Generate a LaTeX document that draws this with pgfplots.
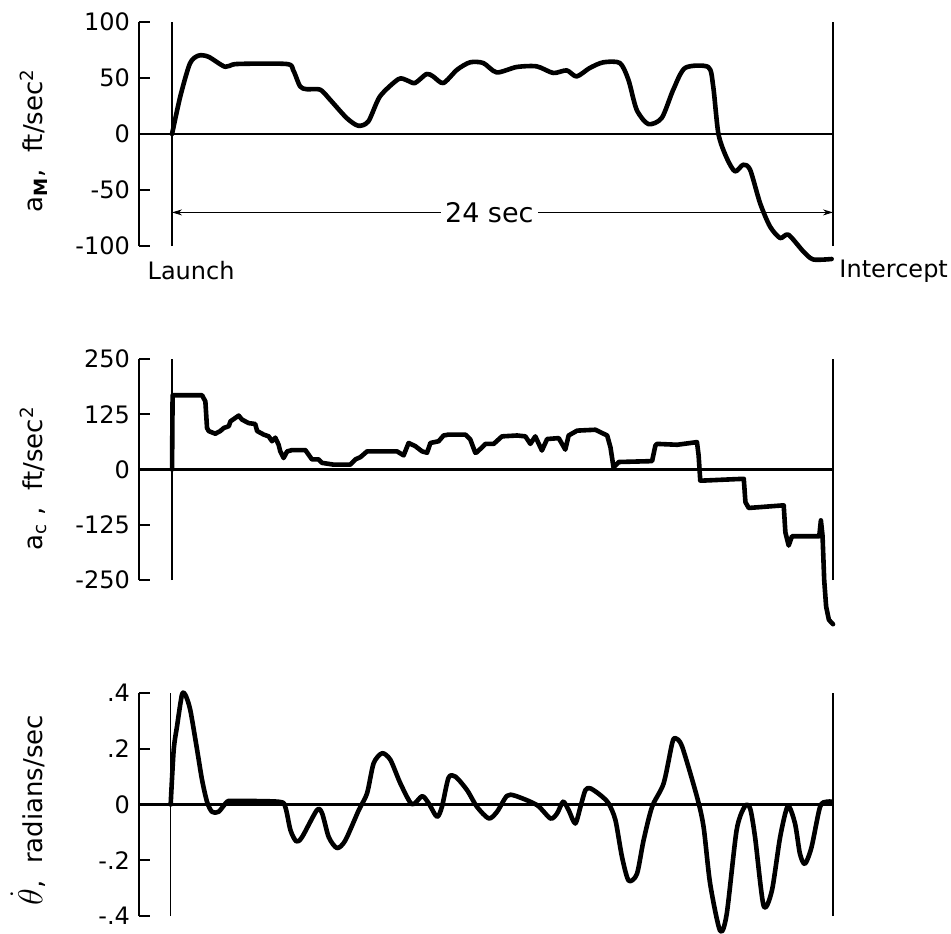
\documentclass[border=0pt]{standalone}
\usepackage{fontspec}
\setmainfont{DejaVu Sans}
\usepackage{pgfplots}
\pgfplotsset{compat=1.18}
\usetikzlibrary{arrows.meta}

% one picture pixel = 0.5pt, origin at the top left corner
\pgfplotsset{
  panel/.style={
    scale only axis, width=347pt,
    xmin=-1.2, xmax=24, clip=false,
    axis x line=none, axis y line*=left,
    xtick=\empty,
    axis line style={-, line width=1.2pt},
    tick align=inside, major tick length=5.5pt,
    ytick style={line width=1.2pt, black},
    yticklabel style={font=\fontsize{12}{13}\selectfont, xshift=-1pt},
    ylabel style={font=\fontsize{13}{14}\selectfont, anchor=center},
    anchor=south west,
  },
  curve/.style={black, line width=2.3pt, line join=round, line cap=round, no markers},
  guide/.style={black, line width=1pt, no markers},
  zero/.style={black, line width=1.4pt, no markers},
}

\begin{document}
\begin{tikzpicture}
\useasboundingbox (0pt,0pt) rectangle (475.5pt,-466.5pt);

% ---- missile acceleration
\begin{axis}[panel, at={(69.5pt,-123pt)}, height=112pt,
  ymin=-100, ymax=100,
  ytick={-100,-50,0,50,100},
  yticklabels={-100,-50,0,50,100},
  ylabel={a\textsubscript{\textbf{M}},\ \ ft/sec\textsuperscript{2}},
  ylabel style={at={(axis description cs:-0.152,0.47)}},
]
\addplot[zero] coordinates {(-1.2,0) (24,0)};
\addplot[guide] coordinates {(0,-100) (0,100)};
\addplot[guide] coordinates {(24,-100) (24,100)};
\addplot[curve, smooth, tension=0.45] coordinates {
 (0,0) (0.3,33.6) (0.65,63) (0.96,70) (1.32,69) (1.93,60) (2.35,62.5) (4.16,62.5)
 (4.4,57) (4.65,42.5) (4.89,40) (5.38,39.6) (5.74,30.6) (6.34,14.3) (6.76,7.4)
 (7.13,11.3) (7.55,33.6) (8.22,49) (8.52,48) (8.82,45.5) (9.24,53.6) (9.48,51.4)
 (9.85,45.5) (10.35,57.4) (10.82,64) (11.3,63.4) (11.79,55) (12.51,59.8) (13.24,60.4)
 (13.84,54.5) (14.33,56.8) (14.69,51.4) (15.17,59) (15.66,64) (16.26,63.4) (16.57,48.5)
 (16.87,21.7) (17.29,8.9) (17.78,14.3) (18.2,39.6) (18.63,59) (19.47,59.8) (19.65,42.5)
 (19.84,0) (20.14,-21.4) (20.44,-33.4) (20.74,-27.4) (20.99,-31.9) (21.35,-61.6)
 (21.71,-82.5) (22.08,-92.9) (22.38,-89.9) (22.92,-104.8) (23.28,-112) (23.95,-111.6)
};
\draw[{Stealth[length=5pt,width=3pt]}-{Stealth[length=5pt,width=3pt]}, line width=0.5pt]
  (axis cs:0,-70) -- (axis cs:24,-70)
  node[pos=0.48, fill=white, inner sep=2pt, font=\fontsize{13.5}{14}\selectfont] {24 sec};
\node[anchor=base west, inner sep=0pt, font=\fontsize{12}{13}\selectfont]
  at (axis cs:-0.9,-129.6) {Launch};
\node[anchor=base west, inner sep=0pt, font=\fontsize{12}{13}\selectfont]
  at (axis cs:24.22,-128.3) {Intercept};
\end{axis}

% ---- commanded acceleration
\begin{axis}[panel, at={(69.5pt,-290pt)}, height=110.5pt,
  ymin=-250, ymax=250,
  ytick={-250,-125,0,125,250},
  yticklabels={-250,-125,0,125,250},
  ylabel={a\textsubscript{c} ,\ \ ft/sec\textsuperscript{2}},
  ylabel style={at={(axis description cs:-0.152,0.46)}},
]
\addplot[zero] coordinates {(-1.2,0) (24,0)};
\addplot[guide] coordinates {(0,-250) (0,250)};
\addplot[guide] coordinates {(24,-250) (24,250)};
\addplot[curve, sharp plot] coordinates {
 (0,0) (0.02,168) (1.09,168) (1.21,154) (1.27,94) (1.33,87) (1.57,81) (1.75,87)
 (1.88,94) (2.06,98) (2.12,109) (2.42,122) (2.54,113) (2.78,105) (3.02,103) (3.09,87)
 (3.33,79) (3.51,75) (3.63,64) (3.75,72) (3.87,56) (3.93,41) (4.05,26) (4.18,41)
 (4.36,44) (4.84,44) (5.08,23) (5.32,23) (5.45,15) (5.87,11) (6.47,11) (6.66,23)
 (6.84,28) (7.08,41) (8.17,41) (8.41,32) (8.59,60) (8.83,53) (9.08,41) (9.26,38)
 (9.38,60) (9.68,64) (9.86,77) (10.04,79) (10.65,79) (10.83,68) (11.01,38) (11.07,39)
 (11.38,58) (11.68,58) (11.98,75) (12.53,77) (12.83,75) (13.01,58) (13.19,75) (13.43,43)
 (13.62,69) (14.04,71) (14.28,45) (14.4,77) (14.71,88) (15.37,90) (15.8,77) (15.92,50)
 (16.03,5) (16.22,17) (17.43,19) (17.55,54) (17.61,58) (18.34,56) (19.06,62) (19.12,32)
 (19.18,-25) (19.3,-25) (20.76,-21) (20.82,-74) (20.94,-87) (22.21,-81) (22.27,-142)
 (22.39,-172) (22.51,-151) (23.5,-151) (23.56,-115) (23.62,-150) (23.68,-250)
 (23.75,-310) (23.85,-340) (24.0,-350)
};
\end{axis}

% ---- line-of-sight rate
\begin{axis}[panel, at={(69.5pt,-458pt)}, height=111.5pt,
  ymin=-0.4, ymax=0.4,
  ytick={-0.4,-0.2,0,0.2,0.4},
  yticklabels={-.4,-.2,0,.2,.4},
  ylabel={{\fontsize{16}{16}\selectfont$\dot{\theta}$},\ \ radians/sec},
  ylabel style={at={(axis description cs:-0.16,0.475)}},
]
\addplot[zero] coordinates {(-1.2,0) (24,0)};
\addplot[guide, line width=0.8pt] coordinates {(-0.05,-0.4) (-0.05,0.4)};
\addplot[guide] coordinates {(24,-0.4) (24,0.4)};
\addplot[curve, smooth, tension=0.45] coordinates {
 (-0.05,0) (0.06,0.196) (0.18,0.28) (0.36,0.394) (0.48,0.394) (0.66,0.34) (0.91,0.196)
 (1.09,0.088) (1.27,0.01) (1.45,-0.026) (1.69,-0.026) (2.0,0.01) (2.24,0.013) (3.87,0.01)
 (4.11,-0.008) (4.3,-0.092) (4.51,-0.132) (4.72,-0.117) (5.26,-0.02) (5.45,-0.032)
 (5.69,-0.117) (5.99,-0.156) (6.29,-0.129) (6.78,-0.02) (7.08,0.04) (7.32,0.148)
 (7.63,0.184) (7.93,0.16) (8.29,0.076) (8.71,0.001) (9.08,0.03) (9.32,0.004)
 (9.62,-0.044) (9.8,-0.008) (10.04,0.096) (10.29,0.1) (10.71,0.052) (11.07,-0.008)
 (11.5,-0.05) (11.8,-0.026) (12.16,0.031) (12.47,0.031) (13.25,-0.002) (13.74,-0.05)
 (13.98,-0.032) (14.2,0.01) (14.4,-0.02) (14.64,-0.068) (14.83,-0.008) (15.01,0.052)
 (15.19,0.058) (15.55,0.034) (15.85,0.004) (16.1,-0.056) (16.34,-0.189) (16.58,-0.273)
 (16.88,-0.249) (17.12,-0.129) (17.43,-0.008) (17.85,0.076) (18.16,0.22) (18.28,0.238)
 (18.52,0.208) (19.06,0.028) (19.3,-0.08) (19.54,-0.285) (19.9,-0.453) (20.14,-0.393)
 (20.5,-0.092) (20.8,-0.006) (20.99,-0.014) (21.17,-0.117) (21.48,-0.363) (21.78,-0.309)
 (22.08,-0.117) (22.36,-0.006) (22.62,-0.068) (22.8,-0.177) (22.98,-0.213) (23.22,-0.153)
 (23.53,-0.008) (23.77,0.01) (23.95,0.01)
};
\end{axis}
\end{tikzpicture}
\end{document}
